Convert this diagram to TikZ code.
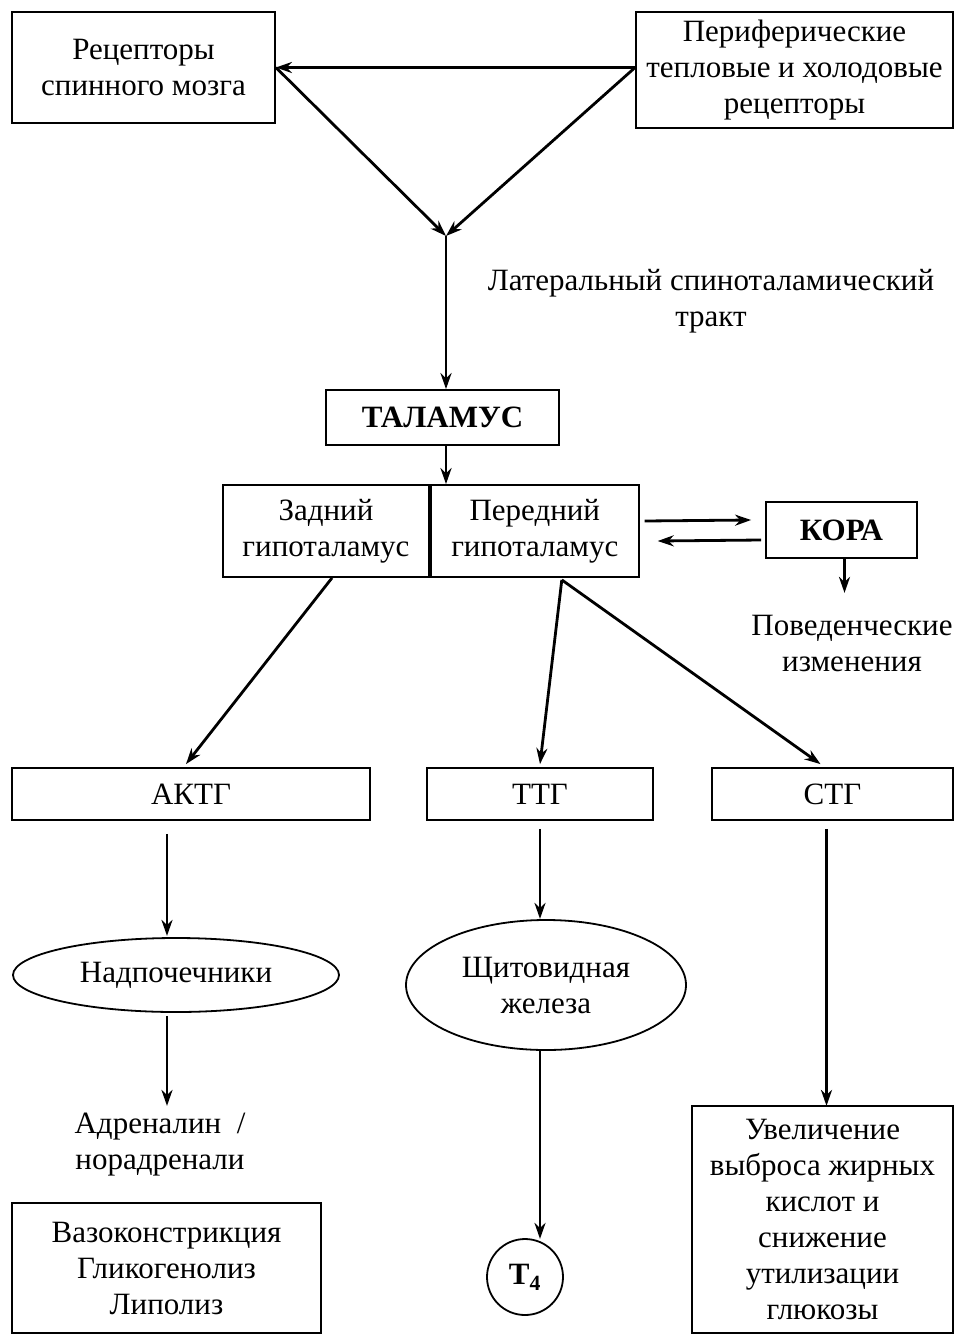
\documentclass[tikz,border=0pt]{standalone}
\usepackage{fontspec}
\setmainfont{Liberation Serif}
\usetikzlibrary{shapes,arrows,positioning,calc,arrows.meta}

\begin{document}
\begin{tikzpicture}[x=1pt,y=-1pt,
    box/.style={draw, line width=1.8pt, align=center, inner sep=0pt},
    oval/.style={draw, ellipse, line width=1.8pt, align=center, inner sep=0pt},
    txt/.style={align=center, inner sep=0pt},
    arr/.style={line width=2.8pt, -{Stealth[length=16pt,width=11pt]}},
    every node/.style={font=\fontsize{31}{36}\selectfont}]
    \useasboundingbox (0,0) rectangle (955,1335);

    % top receptors
    \node[box, minimum width=263, minimum height=111] (spinal) at (143.5,67.5) {Рецепторы\\спинного мозга};
    \node[box, minimum width=317, minimum height=116] (peri) at (794.5,70) {Периферические\\тепловые и холодовые\\рецепторы};
    \coordinate (meet) at (446,236);
    \draw[arr] (peri.west |- spinal.east) -- (spinal.east);
    \draw[arr] (spinal.east) -- (meet);
    \draw[arr] (peri.west |- spinal.east) -- (meet);

    % thalamus
    \node[txt] (tract) at (711,301) {Латеральный спиноталамический\\тракт};
    \node[box, minimum width=233, minimum height=55, font=\fontsize{31}{36}\selectfont\bfseries] (thal) at (442.5,417.5) {ТАЛАМУС};
    \draw[arr] (meet) -- (meet |- thal.north);

    % hypothalamus
    \node[box, minimum width=206, minimum height=92] (post) at (326,531) {Задний\\гипоталамус};
    \node[box, minimum width=208, minimum height=92, right=0pt of post] (ant) {Передний\\гипоталамус};
    \draw[arr] (thal.south -| meet) -- (meet |- ant.north);

    % cortex
    \node[box, minimum width=151, minimum height=56, font=\fontsize{31}{36}\selectfont\bfseries] (kora) at (841.5,530) {КОРА};
    \node[txt] (behav) at (852,643) {Поведенческие\\изменения};
    \draw[arr] ($(ant.east)+(5,-10)$) -- ($(kora.west)+(-14,-10)$);
    \draw[arr] ($(kora.west)+(-4,10)$) -- ($(ant.east)+(18,10)$);
    \draw[arr] ($(kora.south)+(3,0)$) -- ($(kora.south)+(3,34)$);

    % hormones
    \node[box, minimum width=358, minimum height=52] (aktg) at (191,794) {АКТГ};
    \node[box, minimum width=226, minimum height=52] (ttg) at (540,794) {ТТГ};
    \node[box, minimum width=241, minimum height=52] (stg) at (832.5,794) {СТГ};
    \draw[arr] ($(post.south)+(6,0)$) -- ($(aktg.north)+(-5,-3)$);
    \draw[arr] ($(ant.south)+(27,2)$) -- ($(ttg.north)+(0,-3)$);
    \draw[arr] ($(ant.south)+(27,2)$) -- ($(stg.north)+(-12,-3)$);

    % adrenal branch
    \node[oval, minimum width=326, minimum height=74] (adren) at (176,975) {Надпочечники};
    \node[txt] (adr) at (160,1145) {Адреналин~~/\\норадренали};
    \node[box, minimum width=309, minimum height=130] (vaso) at (166.5,1268) {Вазоконстрикция\\Гликогенолиз\\Липолиз};
    \draw[arr] ($(aktg.south)+(-24,13)$) -- ($(aktg.south)+(-24,115)$);
    \draw[arr] ($(adren.south)+(-9,3)$) -- ($(adren.south)+(-9,93)$);

    % thyroid branch
    \node[oval, minimum width=280, minimum height=130] (thyr) at (546,985) {Щитовидная\\железа};
    \node[oval, minimum width=76, minimum height=76, font=\fontsize{31}{36}\selectfont\bfseries] (tfour) at (525,1277) {T\textsubscript{4}};
    \draw[arr] ($(ttg.south)+(0,8)$) -- ($(ttg.south)+(0,98)$);
    \draw[arr] ($(thyr.south)+(-6,0)$) -- ($(thyr.south)+(-6,188)$);

    % growth hormone branch
    \node[box, minimum width=261, minimum height=227] (fat) at (822.5,1219.5) {Увеличение\\выброса жирных\\кислот и\\снижение\\утилизации\\глюкозы};
    \draw[arr] ($(stg.south)+(-6,8)$) -- ($(stg.south)+(-6,285)$);
\end{tikzpicture}
\end{document}
